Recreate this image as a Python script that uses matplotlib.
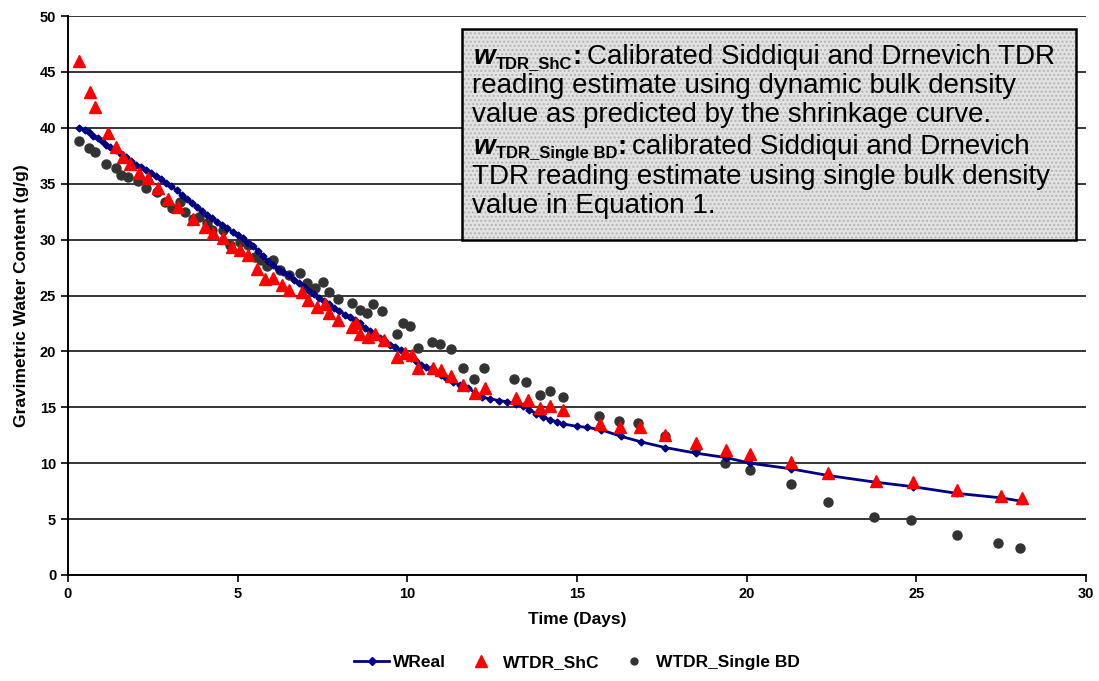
import numpy as np
import matplotlib.pyplot as plt
from matplotlib.patches import Rectangle
from matplotlib.lines import Line2D

plt.rcParams['font.family'] = ['Liberation Sans', 'DejaVu Sans']

# WReal (measured water content)
dias_real = [0.32, 0.50, 0.62, 0.75, 0.88, 1.00, 1.12, 1.25, 1.41, 1.55, 1.70, 1.85,
             2.00, 2.15, 2.30, 2.45, 2.60, 2.75, 2.90, 3.05, 3.20, 3.35, 3.50, 3.65,
             3.80, 3.95, 4.10, 4.25, 4.40, 4.55, 4.70, 4.85, 5.00, 5.15, 5.30, 5.45,
             5.60, 5.75, 5.90, 6.05, 6.20, 6.35, 6.50, 6.65, 6.80, 6.95, 7.10, 7.25,
             7.40, 7.55, 7.70, 7.85, 8.00, 8.15, 8.30, 8.45, 8.60, 8.75, 8.90, 9.05,
             9.20, 9.35, 9.50, 9.65, 9.80, 9.95, 10.10, 10.25, 10.40, 10.55, 10.70,
             10.85, 11.00, 11.15, 11.35, 11.55, 11.80, 12.00, 12.20, 12.45, 12.70,
             12.95, 13.20, 13.40, 13.60, 13.80, 14.00, 14.20, 14.40, 14.60, 15.00,
             15.30, 15.70, 16.30, 16.90, 17.60, 18.50, 19.40, 20.10, 21.30, 22.40,
             23.80, 24.90, 26.20, 27.50, 28.10]
w_real = [40.0, 39.8, 39.6, 39.3, 39.1, 38.8, 38.5, 38.3, 38.0, 37.7, 37.4, 37.0,
          36.7, 36.5, 36.2, 36.0, 35.7, 35.4, 35.1, 34.8, 34.4, 34.0, 33.6, 33.3,
          32.9, 32.6, 32.2, 31.9, 31.6, 31.3, 31.0, 30.7, 30.4, 30.1, 29.7, 29.4,
          29.0, 28.5, 28.1, 27.7, 27.4, 27.1, 26.8, 26.4, 26.1, 25.8, 25.4, 25.1,
          24.8, 24.5, 24.2, 23.9, 23.6, 23.3, 23.1, 22.8, 22.5, 22.1, 21.8, 21.5,
          21.2, 20.9, 20.6, 20.4, 20.1, 19.7, 19.4, 19.1, 18.8, 18.6, 18.4,
          18.2, 17.9, 17.6, 17.3, 17.0, 16.7, 16.3, 15.9, 15.75, 15.6,
          15.5, 15.3, 15.1, 14.8, 14.4, 14.1, 13.9, 13.7, 13.5, 13.3,
          13.2, 13.0, 12.4, 11.9, 11.4, 10.9, 10.5, 10.0, 9.5, 8.9,
          8.3, 7.9, 7.3, 6.9, 6.6]

# WTDR_ShC
dias_shc = [0.32, 0.65, 0.80, 1.18, 1.40, 1.62, 1.83, 2.10, 2.36, 2.65, 2.95, 3.24,
            3.68, 4.04, 4.27, 4.57, 4.83, 5.07, 5.30, 5.57, 5.80, 6.05, 6.30, 6.50,
            6.90, 7.07, 7.34, 7.57, 7.70, 7.96, 8.37, 8.50, 8.60, 8.84, 9.05, 9.30,
            9.70, 9.93, 10.14, 10.30, 10.76, 11.00, 11.30, 11.65, 12.00, 12.30,
            13.20, 13.56, 13.90, 14.20, 14.60, 15.68, 16.27, 16.86, 17.60, 18.50,
            19.40, 20.10, 21.30, 22.40, 23.80, 24.90, 26.20, 27.50, 28.10]
w_shc = [46.0, 43.2, 41.9, 39.5, 38.3, 37.4, 36.8, 36.0, 35.5, 34.6, 33.6, 32.9,
         31.8, 31.1, 30.6, 30.1, 29.3, 29.1, 28.6, 27.4, 26.5, 26.6, 25.9, 25.5,
         25.3, 24.6, 24.0, 24.2, 23.4, 22.8, 22.2, 22.5, 21.6, 21.3, 21.6, 21.0,
         19.5, 19.9, 19.7, 18.5, 18.5, 18.3, 17.8, 17.0, 16.3, 16.7,
         15.8, 15.65, 14.9, 15.1, 14.8, 13.5, 13.25, 13.2, 12.5, 11.8,
         11.2, 10.8, 10.1, 9.1, 8.4, 8.3, 7.6, 7.1, 6.9]

# WTDR_Single BD
dias_sbd = [0.32, 0.62, 0.80, 1.12, 1.40, 1.56, 1.77, 2.06, 2.30, 2.62, 2.86, 3.07,
            3.30, 3.45, 3.68, 3.86, 4.10, 4.24, 4.57, 4.77, 5.07, 5.30, 5.50, 5.70,
            5.86, 6.05, 6.25, 6.50, 6.84, 7.04, 7.28, 7.50, 7.70, 7.96, 8.37, 8.60,
            8.80, 9.00, 9.26, 9.70, 9.88, 10.08, 10.30, 10.73, 10.96, 11.28, 11.65,
            11.97, 12.26, 13.15, 13.50, 13.90, 14.20, 14.60, 15.65, 16.24, 16.80,
            17.60, 18.50, 19.36, 20.10, 21.30, 22.40, 23.75, 24.85, 26.20, 27.40,
            28.06]
w_sbd = [38.8, 38.2, 37.8, 36.8, 36.4, 35.8, 35.6, 35.2, 34.6, 34.3, 33.4, 32.8,
         33.4, 32.5, 31.8, 32.0, 31.5, 30.9, 30.9, 29.5, 29.8, 29.5, 28.4, 28.2,
         27.6, 28.2, 27.3, 26.8, 27.0, 26.1, 25.7, 26.2, 25.3, 24.7, 24.3, 23.7,
         23.4, 24.2, 23.6, 21.6, 22.5, 22.3, 20.3, 20.8, 20.7, 20.2, 18.5,
         17.5, 18.5, 17.5, 17.3, 16.1, 16.5, 15.9, 14.2, 13.8, 13.6,
         12.4, 11.4, 10.0, 9.4, 8.1, 6.5, 5.2, 4.9, 3.6, 2.9,
         2.4]

W, H = 1099, 681
fig = plt.figure(figsize=(W / 100, H / 100), dpi=100)

def px(x, y):
    return x / W, 1 - y / H

ax = fig.add_axes([68 / W, 1 - 575 / H, (1086 - 68) / W, (575 - 16) / H])

ax.plot(dias_real, w_real, color='#000080', lw=2, marker='D', ms=3.5,
        markeredgecolor='#000080', label='WReal', zorder=3)
ax.plot(dias_shc, w_shc, ls='none', marker='^', ms=8.5, color='#ff0000',
        markeredgecolor='#ff0000', label='WTDR_ShC', zorder=4)
ax.plot(dias_sbd, w_sbd, ls='none', marker='o', ms=6.5, color='#333333',
        label='WTDR_Single BD', zorder=2)

ax.set_xlim(0, 30)
ax.set_ylim(0, 50)
ax.set_xticks(np.arange(0, 31, 5))
ax.set_yticks(np.arange(0, 51, 5))
ax.yaxis.grid(True, color='#000000', lw=1.1)
ax.set_axisbelow(True)
for s in ['top', 'right']:
    ax.spines[s].set_visible(False)
for s in ['left', 'bottom']:
    ax.spines[s].set_linewidth(1.4)
ax.tick_params(axis='both', direction='out', length=5, width=1.2, labelsize=10.5)
for lab in ax.get_xticklabels() + ax.get_yticklabels():
    lab.set_fontweight('bold')

ax.set_xlabel('Time (Days)', fontsize=12.5, fontweight='bold', labelpad=8)
ax.set_ylabel('Gravimetric Water Content (g/g)', fontsize=12.5, fontweight='bold', labelpad=8)

# caixa de texto (fundo pontilhado + moldura)
x0, y0 = px(462, 240)
x1, y1 = px(1076, 29)
fundo = Rectangle((x0, y0), x1 - x0, y1 - y0, transform=fig.transFigure,
                  facecolor='#e2e2e2', edgecolor='#b4b4b4', lw=0, zorder=5,
                  hatch='....')
fig.patches.append(fundo)
moldura = Rectangle((x0, y0), x1 - x0, y1 - y0, transform=fig.transFigure,
                    facecolor='none', edgecolor='#000000', lw=1.8, zorder=5.5)
fig.patches.append(moldura)

fs = 20
renderer = fig.canvas.get_renderer()

def linha_rotulo(ybase, sub, resto):
    t1 = fig.text(*px(474, ybase), 'w', fontsize=fs, fontweight='bold', style='italic', zorder=6)
    bb = t1.get_window_extent(renderer)
    t2 = fig.text(bb.x1 / W, 1 - (ybase + 4) / H, sub, fontsize=fs * 0.6,
                  fontweight='bold', zorder=6)
    bb = t2.get_window_extent(renderer)
    t3 = fig.text(bb.x1 / W, 1 - ybase / H, ':', fontsize=fs, fontweight='bold', zorder=6)
    bb = t3.get_window_extent(renderer)
    fig.text(bb.x1 / W + 6 / W, 1 - ybase / H, resto, fontsize=fs, zorder=6)

linha_rotulo(64, 'TDR_ShC', 'Calibrated Siddiqui and Drnevich TDR')
fig.text(*px(472, 93), 'reading estimate using dynamic bulk density', fontsize=fs, zorder=6)
fig.text(*px(472, 122), 'value as predicted by the shrinkage curve.', fontsize=fs, zorder=6)
linha_rotulo(154, 'TDR_Single BD', 'calibrated Siddiqui and Drnevich')
fig.text(*px(472, 184), 'TDR reading estimate using single bulk density', fontsize=fs, zorder=6)
fig.text(*px(472, 213), 'value in Equation 1.', fontsize=fs, zorder=6)

handles = [Line2D([], [], color='#000080', lw=2, marker='D', ms=4),
           Line2D([], [], ls='none', marker='^', ms=8, color='#ff0000'),
           Line2D([], [], ls='none', marker='o', ms=5, color='#333333')]
fig.legend(handles, ['WReal', 'WTDR_ShC', 'WTDR_Single BD'], loc='center',
           bbox_to_anchor=px(577, 662), ncol=3, frameon=False,
           prop={'weight': 'bold', 'size': 12.5}, handlelength=2.0,
           handletextpad=0.25, columnspacing=1.0)

fig.savefig('out.png', dpi=100)
